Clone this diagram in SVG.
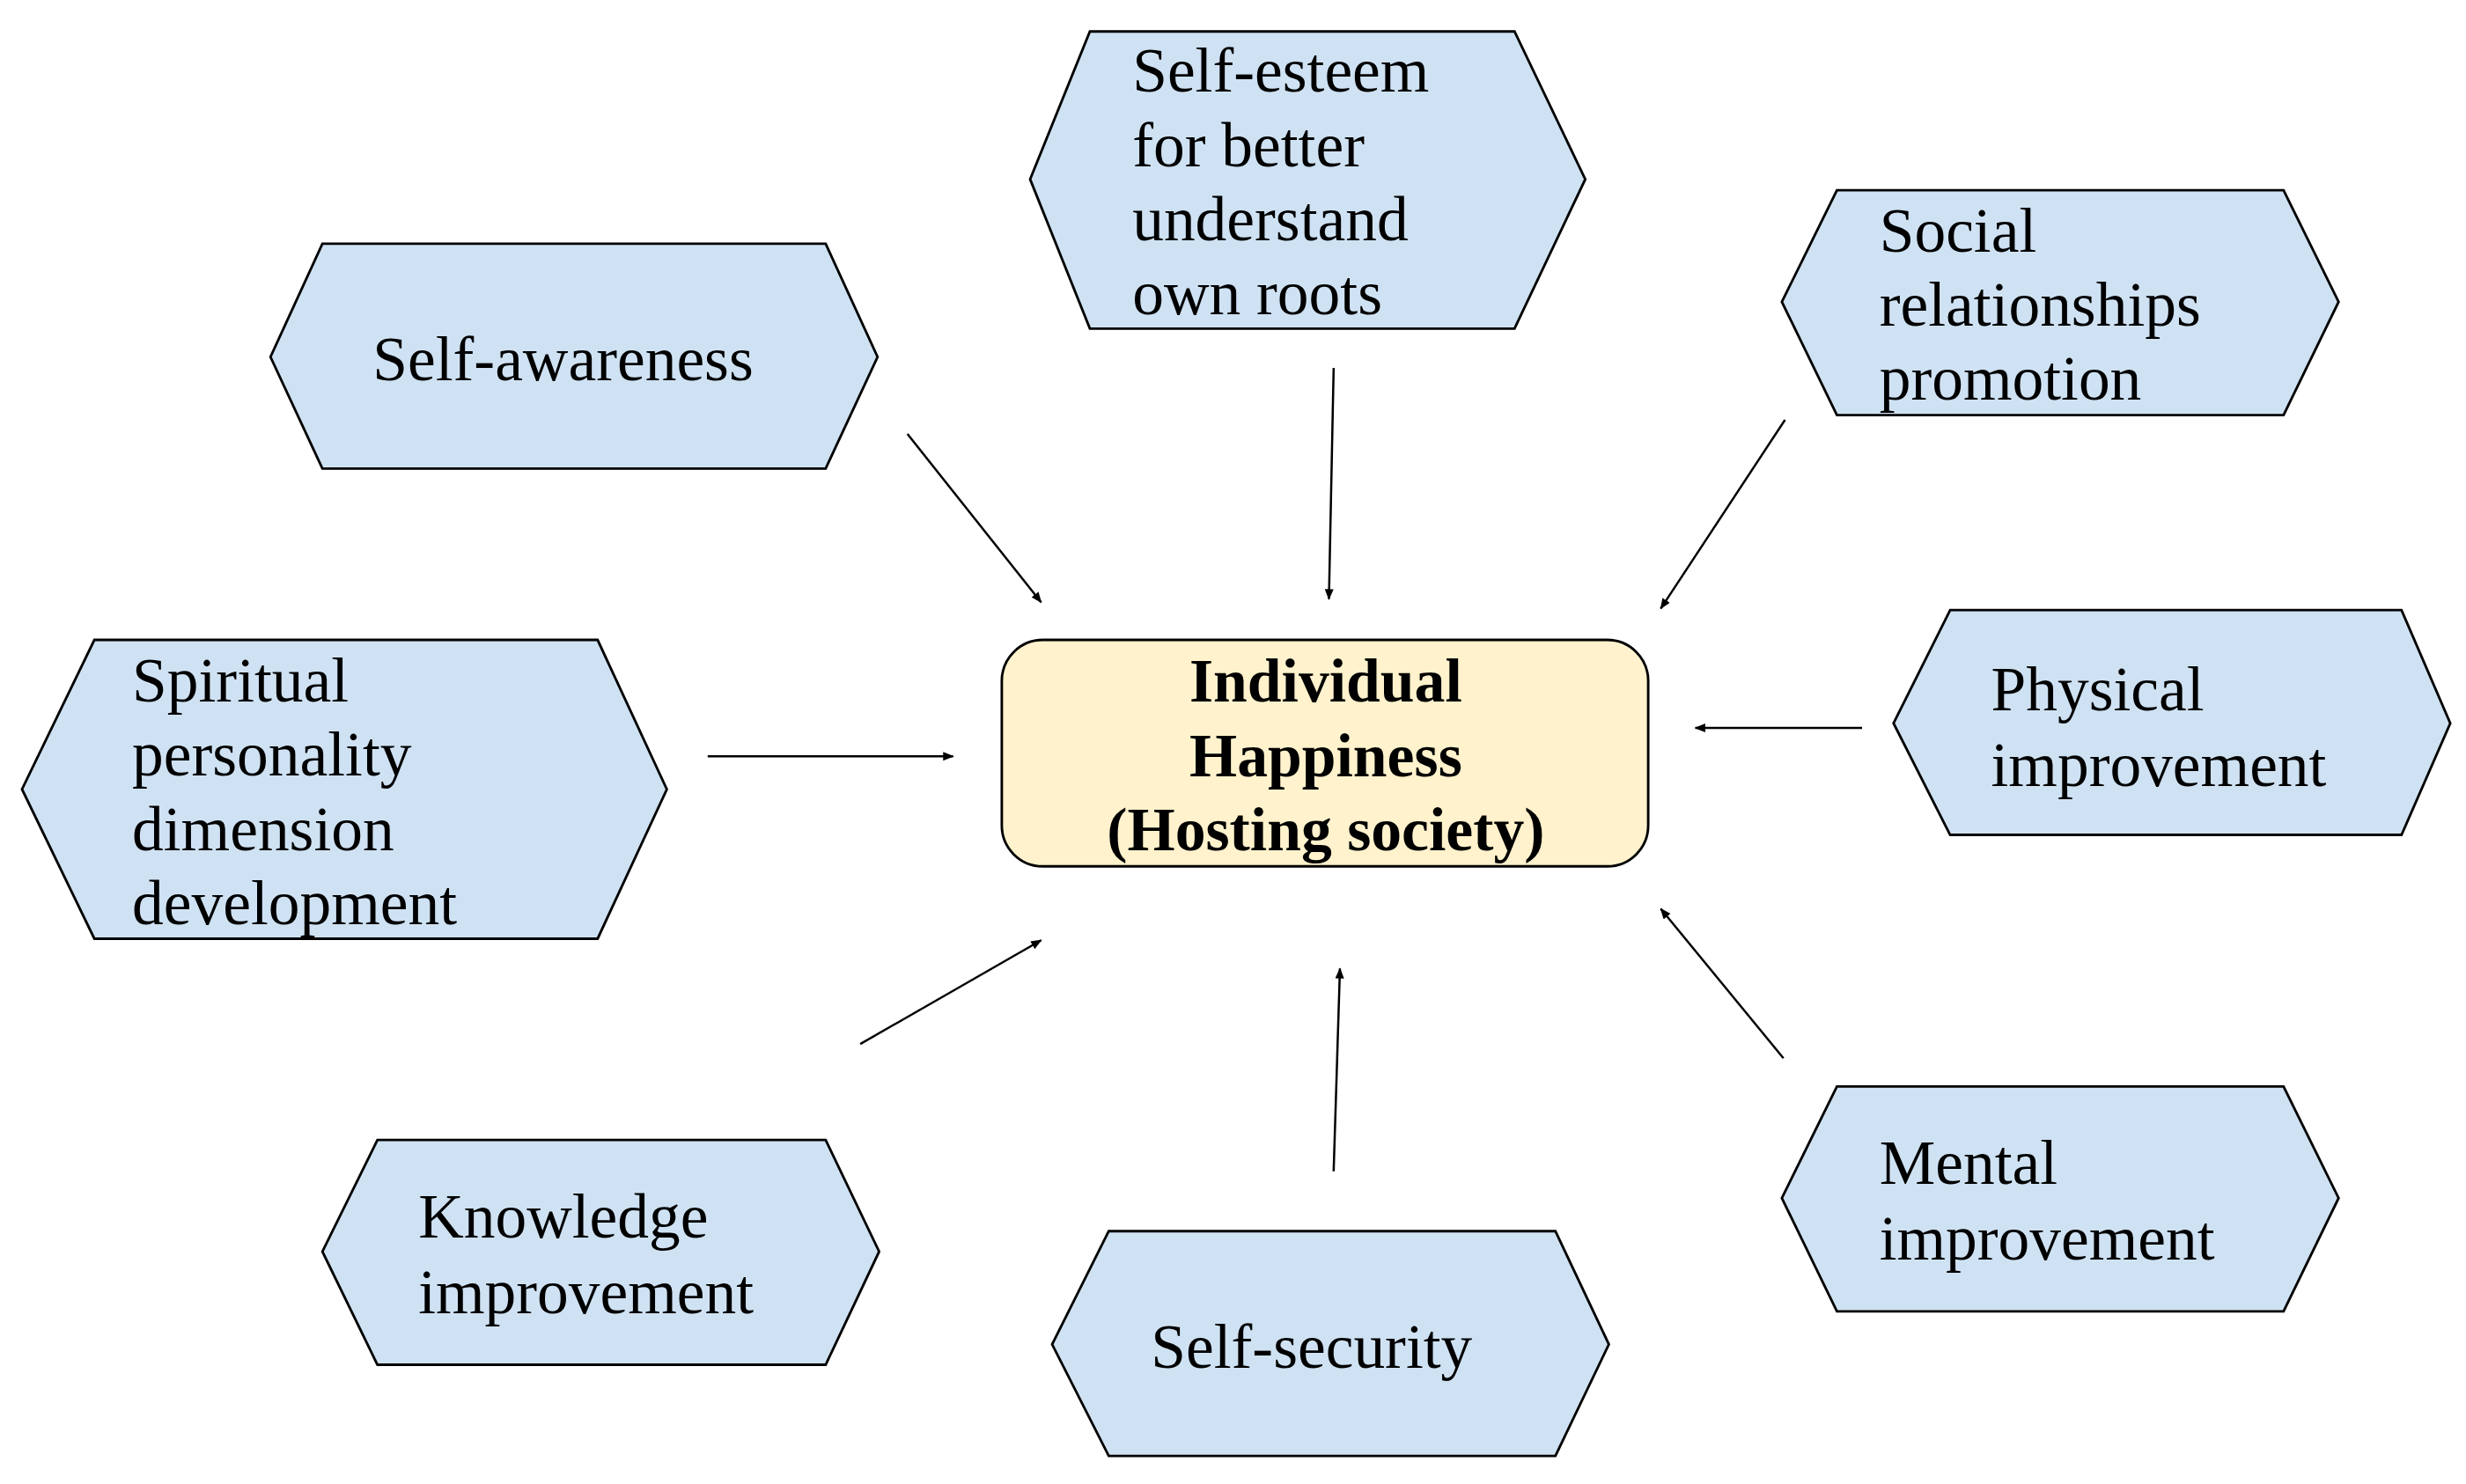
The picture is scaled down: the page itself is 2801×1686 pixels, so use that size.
<svg xmlns="http://www.w3.org/2000/svg" width="2801" height="1686" viewBox="0 0 2801 1686">
<defs>
<style>
.hex{fill:#cfe2f3;stroke:#000;stroke-width:1.6}
.t{font-family:"Liberation Serif",serif;font-size:40px;fill:#000}
.b{font-family:"Liberation Serif",serif;font-size:39px;font-weight:bold;fill:#000}
.c{stroke:#000;stroke-width:1.4;fill:none;marker-end:url(#ah)}
</style>
<marker id="ah" viewBox="0 0 10 10" refX="9" refY="5" markerWidth="7" markerHeight="7" orient="auto" markerUnits="userSpaceOnUse"><path d="M0,1 L10,5 L0,9 z" fill="#000"/></marker>
</defs>
<rect width="2801" height="1686" fill="#fff"/>
<g transform="scale(1.78635)">
<g id="self-awareness"><polygon class="hex" points="205,155 525,155 558,227 525,298 205,298 172,227"/><text class="t" x="358" y="242" text-anchor="middle">Self-awareness</text></g>
<g id="self-esteem"><polygon class="hex" points="693,20 963,20 1008,114 963,209 693,209 655,114"/><text class="t" x="720" y="58">Self-esteem</text><text class="t" x="720" y="106">for better</text><text class="t" x="720" y="153">understand</text><text class="t" x="720" y="200">own roots</text></g>
<g id="social"><polygon class="hex" points="1168,121 1452,121 1487,192 1452,264 1168,264 1133,192"/><text class="t" x="1195" y="160">Social</text><text class="t" x="1195" y="207">relationships</text><text class="t" x="1195" y="254">promotion</text></g>
<g id="spiritual"><polygon class="hex" points="60,407 380,407 424,502 380,597 60,597 14,502"/><text class="t" x="84" y="446">Spiritual</text><text class="t" x="84" y="493">personality</text><text class="t" x="84" y="541">dimension</text><text class="t" x="84" y="588">development</text></g>
<g id="physical"><polygon class="hex" points="1240,388 1527,388 1558,460 1527,531 1240,531 1204,460"/><text class="t" x="1266" y="452">Physical</text><text class="t" x="1266" y="500">improvement</text></g>
<g id="knowledge"><polygon class="hex" points="240,725 525,725 559,796 525,868 240,868 205,796"/><text class="t" x="266" y="787">Knowledge</text><text class="t" x="266" y="835">improvement</text></g>
<g id="self-security"><polygon class="hex" points="705,783 989,783 1023,855 989,926 705,926 669,855"/><text class="t" x="834" y="870" text-anchor="middle">Self-security</text></g>
<g id="mental"><polygon class="hex" points="1168,691 1452,691 1487,762 1452,834 1168,834 1133,762"/><text class="t" x="1195" y="753">Mental</text><text class="t" x="1195" y="801">improvement</text></g>
<g id="center"><rect x="637" y="407" width="411" height="144" rx="26" fill="#fff2cc" stroke="#000" stroke-width="1.6"/><text class="b" x="843" y="446" text-anchor="middle">Individual</text><text class="b" x="843" y="494" text-anchor="middle">Happiness</text><text class="b" x="843" y="541" text-anchor="middle">(Hosting society)</text></g>
<g id="connectors">
<line class="c" x1="577" y1="276" x2="662" y2="383"/>
<line class="c" x1="848" y1="234" x2="845" y2="381"/>
<line class="c" x1="1135" y1="267" x2="1056" y2="387"/>
<line class="c" x1="450" y1="481" x2="606" y2="481"/>
<line class="c" x1="1184" y1="463" x2="1078" y2="463"/>
<line class="c" x1="547" y1="664" x2="662" y2="598"/>
<line class="c" x1="848" y1="745" x2="852" y2="616"/>
<line class="c" x1="1134" y1="673" x2="1056" y2="578"/>
</g>
</g>
</svg>
